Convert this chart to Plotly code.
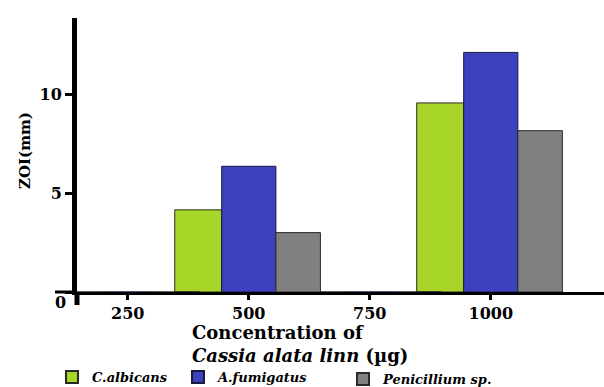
import plotly.graph_objects as go

concentrations = [250, 500, 750, 1000]
tick_labels = ["250", "500", "750", "1000"]
c_albicans = [0, 4.15, 0, 9.55]
a_fumigatus = [0, 6.35, 0, 12.1]
penicillium = [0, 3.0, 0, 8.15]
y_ticks = [0, 5, 10]
y_tick_text = ["", "5", "10"]

serif = "DejaVu Serif"
PW, PH = 527, 274  # plot area size in px


def px_x(px):
    return (px - 77) / PW


def px_y(py):
    return (292 - py) / PH


fig = go.Figure()
fig.add_bar(x=concentrations, y=c_albicans, name="<b><i>C.albicans</i></b>",
            width=97, offset=-153, legend="legend",
            marker=dict(color="#A8D628", line=dict(color="#2a2a2a", width=1)))
fig.add_bar(x=concentrations, y=a_fumigatus, name="<b><i>A.fumigatus</i></b>",
            width=112, offset=-56, legend="legend2",
            marker=dict(color="#3C41BD", line=dict(color="#1a1a40", width=1)))
fig.add_bar(x=concentrations, y=penicillium, name="<b><i>Penicillium sp.</i></b>",
            width=92, offset=56, legend="legend3",
            marker=dict(color="#808080", line=dict(color="#2a2a2a", width=1)))

leg_common = dict(orientation="h", xanchor="left", yanchor="middle",
                  font=dict(family=serif, size=13, color="black"),
                  bgcolor="rgba(0,0,0,0)", itemsizing="constant")

fig.update_layout(
    width=604, height=387,
    margin=dict(l=77, r=0, t=18, b=95, autoexpand=False),
    paper_bgcolor="white", plot_bgcolor="white",
    barmode="overlay",
    showlegend=True,
    legend=dict(x=px_x(92 - 40), y=px_y(377), **leg_common),
    legend2=dict(x=px_x(218 - 40), y=px_y(377), **leg_common),
    legend3=dict(x=px_x(383 - 40), y=px_y(379), **leg_common),
    xaxis=dict(range=[145, 1234], tickvals=concentrations, ticktext=tick_labels,
               showline=True, linewidth=3, linecolor="black",
               ticks="outside", ticklen=5, tickwidth=3, tickcolor="black",
               showgrid=False, zeroline=False,
               tickfont=dict(family=serif, size=16, color="black", weight="bold")),
    yaxis=dict(range=[0, 13.84], tickvals=y_ticks, ticktext=y_tick_text,
               showline=True, linewidth=5, linecolor="black",
               ticks="outside", ticklen=7, tickwidth=3, tickcolor="black",
               showgrid=False, zeroline=False,
               tickfont=dict(family=serif, size=16, color="black", weight="bold")),
    shapes=[
        dict(type="line", xref="paper", yref="paper", x0=px_x(55), x1=0, y0=0, y1=0,
             line=dict(color="black", width=3)),
        dict(type="line", xref="paper", yref="paper", x0=0, x1=0, y0=0, y1=px_y(305),
             line=dict(color="black", width=5)),
    ],
    annotations=[
        dict(text="<b>0</b>", xref="paper", yref="paper",
             x=px_x(68), y=px_y(302), xanchor="right", yanchor="middle",
             showarrow=False, font=dict(family=serif, size=16, color="black")),
        dict(text="<b>ZOI(mm)</b>", xref="paper", yref="paper",
             x=px_x(25), y=px_y(151), xanchor="center", yanchor="middle",
             textangle=-90, showarrow=False,
             font=dict(family=serif, size=15, color="black")),
        dict(text="<b>Concentration of</b><br><b><i>Cassia alata linn</i> (µg)</b>",
             xref="paper", yref="paper", x=px_x(190), y=px_y(320),
             xanchor="left", yanchor="top", align="left", showarrow=False,
             font=dict(family=serif, size=18, color="black")),
    ],
)

fig.write_html("out.html", config={"displayModeBar": False},
               post_script="document.body.style.margin='0';")
